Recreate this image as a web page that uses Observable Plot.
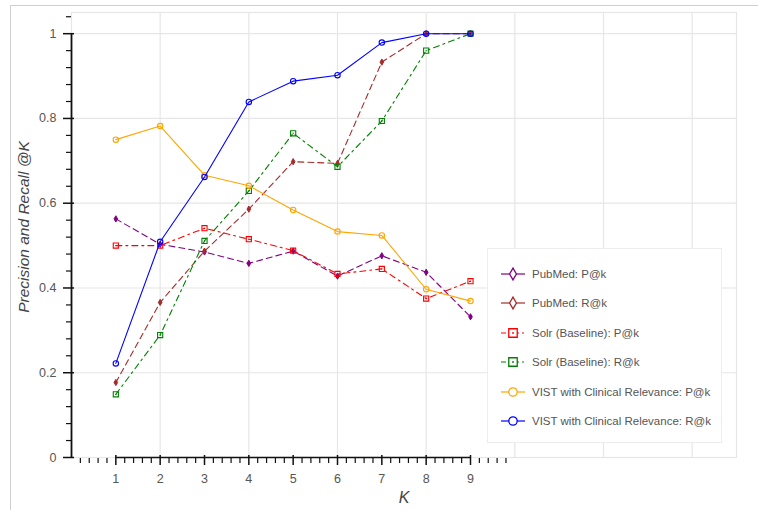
<!DOCTYPE html>
<html>
<head>
<meta charset="utf-8">
<script src="https://cdn.jsdelivr.net/npm/d3@7"></script>
<script src="https://cdn.jsdelivr.net/npm/@observablehq/plot@0.6"></script>
<style>
  html, body { margin: 0; padding: 0; background: #fff; }
  #wrap { position: relative; width: 758px; height: 510px; overflow: hidden; font-family: "Liberation Sans", Arial, sans-serif; }
  #border { position: absolute; left: 10px; top: 5px; width: 900px; height: 700px; border: 1px solid #cfcfcf; pointer-events: none; }
  #chart { position: absolute; left: 0; top: 0; }
  #legend { position: absolute; left: 487px; top: 248px; width: 235px; height: 195px; background: #fff; border: 1px solid #ededed; box-sizing: border-box; }
  .row { position: absolute; left: 0; height: 20px; display: flex; align-items: center; }
  .row svg { display: block; }
  .row span { font-size: 11.5px; color: #555; margin-left: 6px; white-space: nowrap; }
</style>
</head>
<body>
<div id="wrap">
  <div id="chart"></div>
  <div id="border"></div>
  <div id="legend"></div>
</div>
<script>
// ---- data ----
const K = [1, 2, 3, 4, 5, 6, 7, 8, 9];
const pubmedP = [0.563, 0.503, 0.485, 0.458, 0.487, 0.428, 0.476, 0.437, 0.332];
const pubmedR = [0.177, 0.366, 0.487, 0.586, 0.698, 0.694, 0.933, 1.0, 1.0];
const solrP   = [0.500, 0.500, 0.541, 0.515, 0.488, 0.433, 0.445, 0.375, 0.416];
const solrR   = [0.149, 0.289, 0.511, 0.629, 0.765, 0.686, 0.794, 0.960, 1.0];
const vistP   = [0.750, 0.782, 0.666, 0.641, 0.584, 0.533, 0.524, 0.397, 0.369];
const vistR   = [0.222, 0.509, 0.662, 0.839, 0.888, 0.902, 0.979, 1.0, 1.0];

const seriesNames = [
  "PubMed: P@k",
  "PubMed: R@k",
  "Solr (Baseline): P@k",
  "Solr (Baseline): R@k",
  "VIST with Clinical Relevance: P@k",
  "VIST with Clinical Relevance: R@k"
];
const seriesValues = [pubmedP, pubmedR, solrP, solrR, vistP, vistR];

const xTicks = [1, 2, 3, 4, 5, 6, 7, 8, 9];
const yTicks = [0, 0.2, 0.4, 0.6, 0.8, 1];
const yTickLabels = ["0", "0.2", "0.4", "0.6", "0.8", "1"];
const xTitle = "K";
const yTitle = "Precision and Recall @K";

// ---- styles ----
const colors = ["purple", "brown", "red", "green", "orange", "blue"];
const dashes = ["6,4", "6,4", "6,4,2,4", "6,4,2,4", null, null];
const symbols = ["diamond", "diamond", "square", "square", "circle", "circle"];

const rows = [];
seriesNames.forEach((name, i) => {
  K.forEach((k, j) => rows.push({series: name, idx: i, k, v: seriesValues[i][j]}));
});

const xMinor = d3.range(1, 50).map(d => +(d * 0.2).toFixed(2)).filter(d => Math.abs(d - Math.round(d)) > 1e-6);
const yMinor = d3.range(1, 27).map(d => +(d * 0.04).toFixed(2)).filter(d => Math.abs(d * 5 - Math.round(d * 5)) > 1e-6);

const seriesMarks = [];
seriesNames.forEach((name, i) => {
  const data = rows.filter(r => r.idx === i);
  seriesMarks.push(Plot.line(data, {x: "k", y: "v", stroke: colors[i], strokeWidth: 1.1, strokeDasharray: dashes[i] || undefined}));
  if (symbols[i] === "diamond") {
    seriesMarks.push(Plot.dot(data, {x: "k", y: "v", symbol: "diamond", r: 1.9, fill: colors[i], stroke: colors[i], strokeWidth: 1}));
  } else if (symbols[i] === "square") {
    seriesMarks.push(Plot.dot(data, {x: "k", y: "v", symbol: "square", r: 2.9, fill: "white", fillOpacity: 0, stroke: colors[i], strokeWidth: 1.1}));
    seriesMarks.push(Plot.dot(data, {x: "k", y: "v", r: 0.7, fill: colors[i], stroke: "none"}));
  } else {
    seriesMarks.push(Plot.dot(data, {x: "k", y: "v", symbol: "circle", r: 2.7, fill: "none", stroke: colors[i], strokeWidth: 1.1}));
  }
});

const chart = Plot.plot({
  width: 758,
  height: 510,
  marginLeft: 71,
  marginRight: 22,
  marginTop: 12,
  marginBottom: 53,
  x: {domain: [0, 15], axis: null},
  y: {domain: [0, 1.05], axis: null},
  style: {fontFamily: "'Liberation Sans', Arial, sans-serif", background: "transparent", overflow: "visible"},
  marks: [
    Plot.gridX(d3.range(2, 15, 2), {stroke: "#e6e6e6", strokeOpacity: 1, strokeWidth: 1.2}),
    Plot.gridY(yTicks, {stroke: "#e6e6e6", strokeOpacity: 1, strokeWidth: 1.2}),
    Plot.frame({stroke: "#e6e6e6", strokeWidth: 1.2}),
    ...seriesMarks,
    // axis lines
    Plot.ruleX([0], {y1: 0, y2: 1, stroke: "#111", strokeWidth: 1.8}),
    Plot.ruleY([0], {x1: 1, x2: 9, stroke: "#111", strokeWidth: 1.6}),
    // y axis ticks
    Plot.axisY({ticks: yTicks, tickSize: 11, dx: 3, tickPadding: 7, tickFormat: (d) => yTickLabels[yTicks.indexOf(d)], fontSize: 12.5, color: "#555", stroke: "#111", strokeWidth: 1.5, label: null}),
    Plot.axisY({ticks: yMinor, tickSize: 5, tickFormat: () => "", stroke: "#111", strokeWidth: 1.2, label: null}),
    // x axis ticks
    Plot.axisX({ticks: xTicks, tickSize: 10, dy: -2, tickPadding: 9, tickFormat: d => String(d), fontSize: 12.5, color: "#555", stroke: "#111", strokeWidth: 1.5, label: null}),
    Plot.axisX({ticks: xMinor, tickSize: 5, dy: 1, tickFormat: () => "", stroke: "#111", strokeWidth: 1.2, label: null}),
    // axis titles
    Plot.text([yTitle], {frameAnchor: "left", textAnchor: "middle", dx: -47, dy: -8, rotate: -90, fontSize: 15.5, fontStyle: "italic", fill: "#444"}),
    Plot.text([xTitle], {frameAnchor: "bottom", textAnchor: "middle", dy: 45, fontSize: 16, fontStyle: "italic", fill: "#444"})
  ]
});
document.getElementById("chart").appendChild(chart);

// ---- legend ----
const legend = d3.select("#legend");
seriesNames.forEach((name, i) => {
  const row = legend.append("div").attr("class", "row").style("top", (15 + i * 29.4) + "px").style("left", "12px");
  const svg = row.append("svg").attr("width", 26).attr("height", 20);
  svg.append("line").attr("x1", 1).attr("x2", 25).attr("y1", 10).attr("y2", 10)
    .attr("stroke", colors[i]).attr("stroke-width", 1.2)
    .attr("stroke-dasharray", i < 2 ? null : (i < 4 ? "5,3,2,3" : null));
  const sym = symbols[i] === "diamond" ? d3.symbolDiamond : symbols[i] === "square" ? d3.symbolSquare : d3.symbolCircle;
  const size = symbols[i] === "diamond" ? 40 : symbols[i] === "square" ? 72 : 55;
  svg.append("path").attr("d", d3.symbol(sym, size)()).attr("transform", "translate(13,10)")
    .attr("fill", "white").attr("stroke", colors[i]).attr("stroke-width", 1.3);
  if (symbols[i] === "square") {
    svg.append("circle").attr("cx", 13).attr("cy", 10).attr("r", 0.9).attr("fill", colors[i]);
  }
  row.append("span").text(name);
});
</script>
</body>
</html>
